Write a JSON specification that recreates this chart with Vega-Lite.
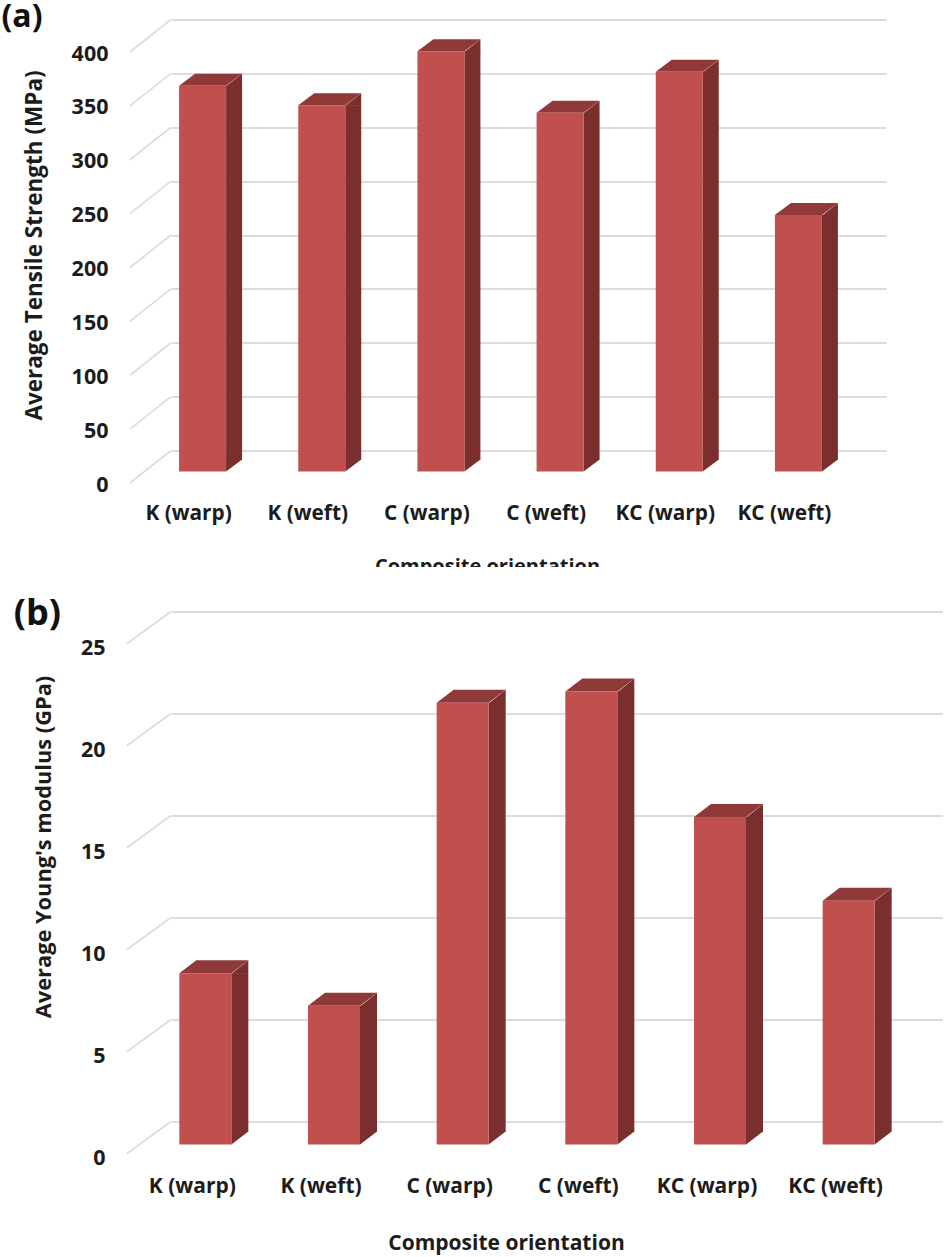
{
"$schema":"https://vega.github.io/schema/vega-lite/v6.json",
"padding":{"left":0,"top":0.5,"right":0,"bottom":20},
"background":"white",
"spacing":10,
"config":{"view":{"stroke":null},"font":"Open Sans","axis":{"labelFont":"Open Sans","titleFont":"Open Sans","labelFontWeight":"bold","titleFontWeight":"bold","labelColor":"#1c1c1c","titleColor":"#1c1c1c"}},
"datasets":{
"a":[{"o":"K (warp)","v":358},{"o":"K (weft)","v":340},{"o":"C (warp)","v":390},{"o":"C (weft)","v":333},{"o":"KC (warp)","v":371},{"o":"KC (weft)","v":238}],
"b":[{"o":"K (warp)","v":8.4},{"o":"K (weft)","v":6.8},{"o":"C (warp)","v":21.65},{"o":"C (weft)","v":22.2},{"o":"KC (warp)","v":16.05},{"o":"KC (weft)","v":11.95}],
"ta":[{"t":0},{"t":50},{"t":100},{"t":150},{"t":200},{"t":250},{"t":300},{"t":350},{"t":400}],
"tb":[{"t":0},{"t":5},{"t":10},{"t":15},{"t":20},{"t":25}]
},
"vconcat":[
{"width":715,"height":431,
"layer":[
{"data":{"name":"a"},"mark":{"type":"bar","opacity":0},
"encoding":{
"x":{"field":"o","type":"nominal","sort":null,"scale":{"paddingInner":0,"paddingOuter":0},"axis":{"title":"Composite orientation","titleFontSize":20,"titleX":316,"titleY":106,"titleAnchor":"middle","labelAngle":0,"labelFontSize":20.8,"labelOffset":-42,"labelPadding":52.5,"ticks":false,"domain":false,"grid":false}},
"y":{"field":"v","type":"quantitative","stack":null,"scale":{"domain":[0,400],"nice":false},"axis":{"title":"Average Tensile Strength (MPa)","titleFontSize":22.5,"titleX":-125,"titleY":225.5,"values":[0,50,100,150,200,250,300,350,400],"labelFontSize":21.5,"labelOffset":34.5,"labelPadding":63,"ticks":false,"domain":false,"grid":true,"gridColor":"#dcdcdc","gridWidth":2,"minExtent":171,"maxExtent":171}}}},
{"data":{"name":"ta"},"mark":{"type":"point","filled":false,"opacity":1,"size":4,"stroke":"#dcdcdc","strokeWidth":1.6,"shape":"M-100.6,32.5 L-59.6,0"},
"encoding":{"x":{"datum":"K (warp)"},"y":{"field":"t","type":"quantitative"}}},
{"data":{"name":"a"},"mark":{"type":"bar","color":"#7b2f2d","width":16,"xOffset":3.5,"yOffset":21,"y2Offset":9},
"encoding":{"x":{"field":"o","type":"nominal","sort":null},"y":{"field":"v","type":"quantitative","stack":null},"y2":{"datum":0}}},
{"data":{"name":"a"},"mark":{"type":"point","filled":true,"opacity":1,"size":4,"strokeWidth":0,"color":"#7b2f2d","xOffset":-28,"yOffset":21,"shape":"M23.5,0.6 L39.5,-12 L39.5,0.6 Z"},
"encoding":{"x":{"field":"o","type":"nominal","sort":null},"y":{"field":"v","type":"quantitative"}}},
{"data":{"name":"a"},"mark":{"type":"point","filled":true,"opacity":1,"size":4,"strokeWidth":0,"color":"#7b2f2d","xOffset":-28,"yOffset":21,"shape":"M23.5,0 L39.5,-12 L39.5,-12.6 L23.5,-12.6 Z"},
"encoding":{"x":{"field":"o","type":"nominal","sort":null},"y":{"datum":0}}},
{"data":{"name":"a"},"mark":{"type":"point","filled":true,"opacity":1,"size":4,"strokeWidth":0,"color":"#8f3a38","xOffset":-28,"yOffset":21,"shape":"M-23.5,0 L23.5,0 L39.5,-12 L-7.5,-12 Z"},
"encoding":{"x":{"field":"o","type":"nominal","sort":null},"y":{"field":"v","type":"quantitative"}}},
{"data":{"name":"a"},"mark":{"type":"bar","color":"#c0504d","width":47,"xOffset":-28,"yOffset":21,"y2Offset":21},
"encoding":{"x":{"field":"o","type":"nominal","sort":null},"y":{"field":"v","type":"quantitative","stack":null},"y2":{"datum":0}}},
{"data":{"values":[{"n":"mask"}]},"mark":{"type":"point","filled":true,"opacity":1,"size":4,"strokeWidth":0,"color":"white","shape":"M-250,116.5 L250,116.5 L250,135 L-250,135 Z"},
"encoding":{"x":{"datum":"C (weft)"},"y":{"datum":0}}},
{"data":{"values":[{"n":"(a)"}]},"mark":{"type":"text","font":"Open Sans","fontWeight":700,"fontSize":32,"color":"#111","xOffset":-208.6,"yOffset":-3},
"encoding":{"text":{"field":"n"},"x":{"datum":"K (warp)"},"y":{"datum":400}}}
]},
{"width":772,"height":510,
"layer":[
{"data":{"name":"b"},"mark":{"type":"bar","opacity":0},
"encoding":{
"x":{"field":"o","type":"nominal","sort":null,"scale":{"paddingInner":0,"paddingOuter":0},"axis":{"title":"Composite orientation","titleFontSize":21,"titleX":335,"titleY":110.5,"titleAnchor":"middle","labelAngle":0,"labelFontSize":21,"labelOffset":-43,"labelPadding":54,"ticks":false,"domain":false,"grid":false}},
"y":{"field":"v","type":"quantitative","stack":null,"scale":{"domain":[0,25],"nice":false},"axis":{"title":"Average Young's modulus (GPa)","titleFontSize":21.8,"titleX":-116,"titleY":235,"values":[0,5,10,15,20,25],"labelFontSize":21.5,"labelOffset":37,"labelPadding":66,"ticks":false,"domain":false,"grid":true,"gridColor":"#dcdcdc","gridWidth":2,"minExtent":171,"maxExtent":171}}}},
{"data":{"name":"tb"},"mark":{"type":"point","filled":false,"opacity":1,"size":4,"stroke":"#dcdcdc","strokeWidth":1.6,"shape":"M-108.3,32 L-64.3,0"},
"encoding":{"x":{"datum":"K (warp)"},"y":{"field":"t","type":"quantitative"}}},
{"data":{"name":"b"},"mark":{"type":"bar","color":"#7b2f2d","width":17,"xOffset":4.5,"yOffset":23,"y2Offset":10},
"encoding":{"x":{"field":"o","type":"nominal","sort":null},"y":{"field":"v","type":"quantitative","stack":null},"y2":{"datum":0}}},
{"data":{"name":"b"},"mark":{"type":"point","filled":true,"opacity":1,"size":4,"strokeWidth":0,"color":"#7b2f2d","xOffset":-30,"yOffset":23,"shape":"M26,0.6 L43,-13 L43,0.6 Z"},
"encoding":{"x":{"field":"o","type":"nominal","sort":null},"y":{"field":"v","type":"quantitative"}}},
{"data":{"name":"b"},"mark":{"type":"point","filled":true,"opacity":1,"size":4,"strokeWidth":0,"color":"#7b2f2d","xOffset":-30,"yOffset":23,"shape":"M26,0 L43,-13 L43,-13.6 L26,-13.6 Z"},
"encoding":{"x":{"field":"o","type":"nominal","sort":null},"y":{"datum":0}}},
{"data":{"name":"b"},"mark":{"type":"point","filled":true,"opacity":1,"size":4,"strokeWidth":0,"color":"#8f3a38","xOffset":-30,"yOffset":23,"shape":"M-26,0 L26,0 L43,-13 L-9,-13 Z"},
"encoding":{"x":{"field":"o","type":"nominal","sort":null},"y":{"field":"v","type":"quantitative"}}},
{"data":{"name":"b"},"mark":{"type":"bar","color":"#c0504d","width":52,"xOffset":-30,"yOffset":23,"y2Offset":23},
"encoding":{"x":{"field":"o","type":"nominal","sort":null},"y":{"field":"v","type":"quantitative","stack":null},"y2":{"datum":0}}},
{"data":{"values":[{"n":"(b)"}]},"mark":{"type":"text","font":"Open Sans","fontWeight":700,"fontSize":36,"color":"#111","xOffset":-198,"yOffset":2},
"encoding":{"text":{"field":"n"},"x":{"datum":"K (warp)"},"y":{"datum":25}}}
]}
]}
